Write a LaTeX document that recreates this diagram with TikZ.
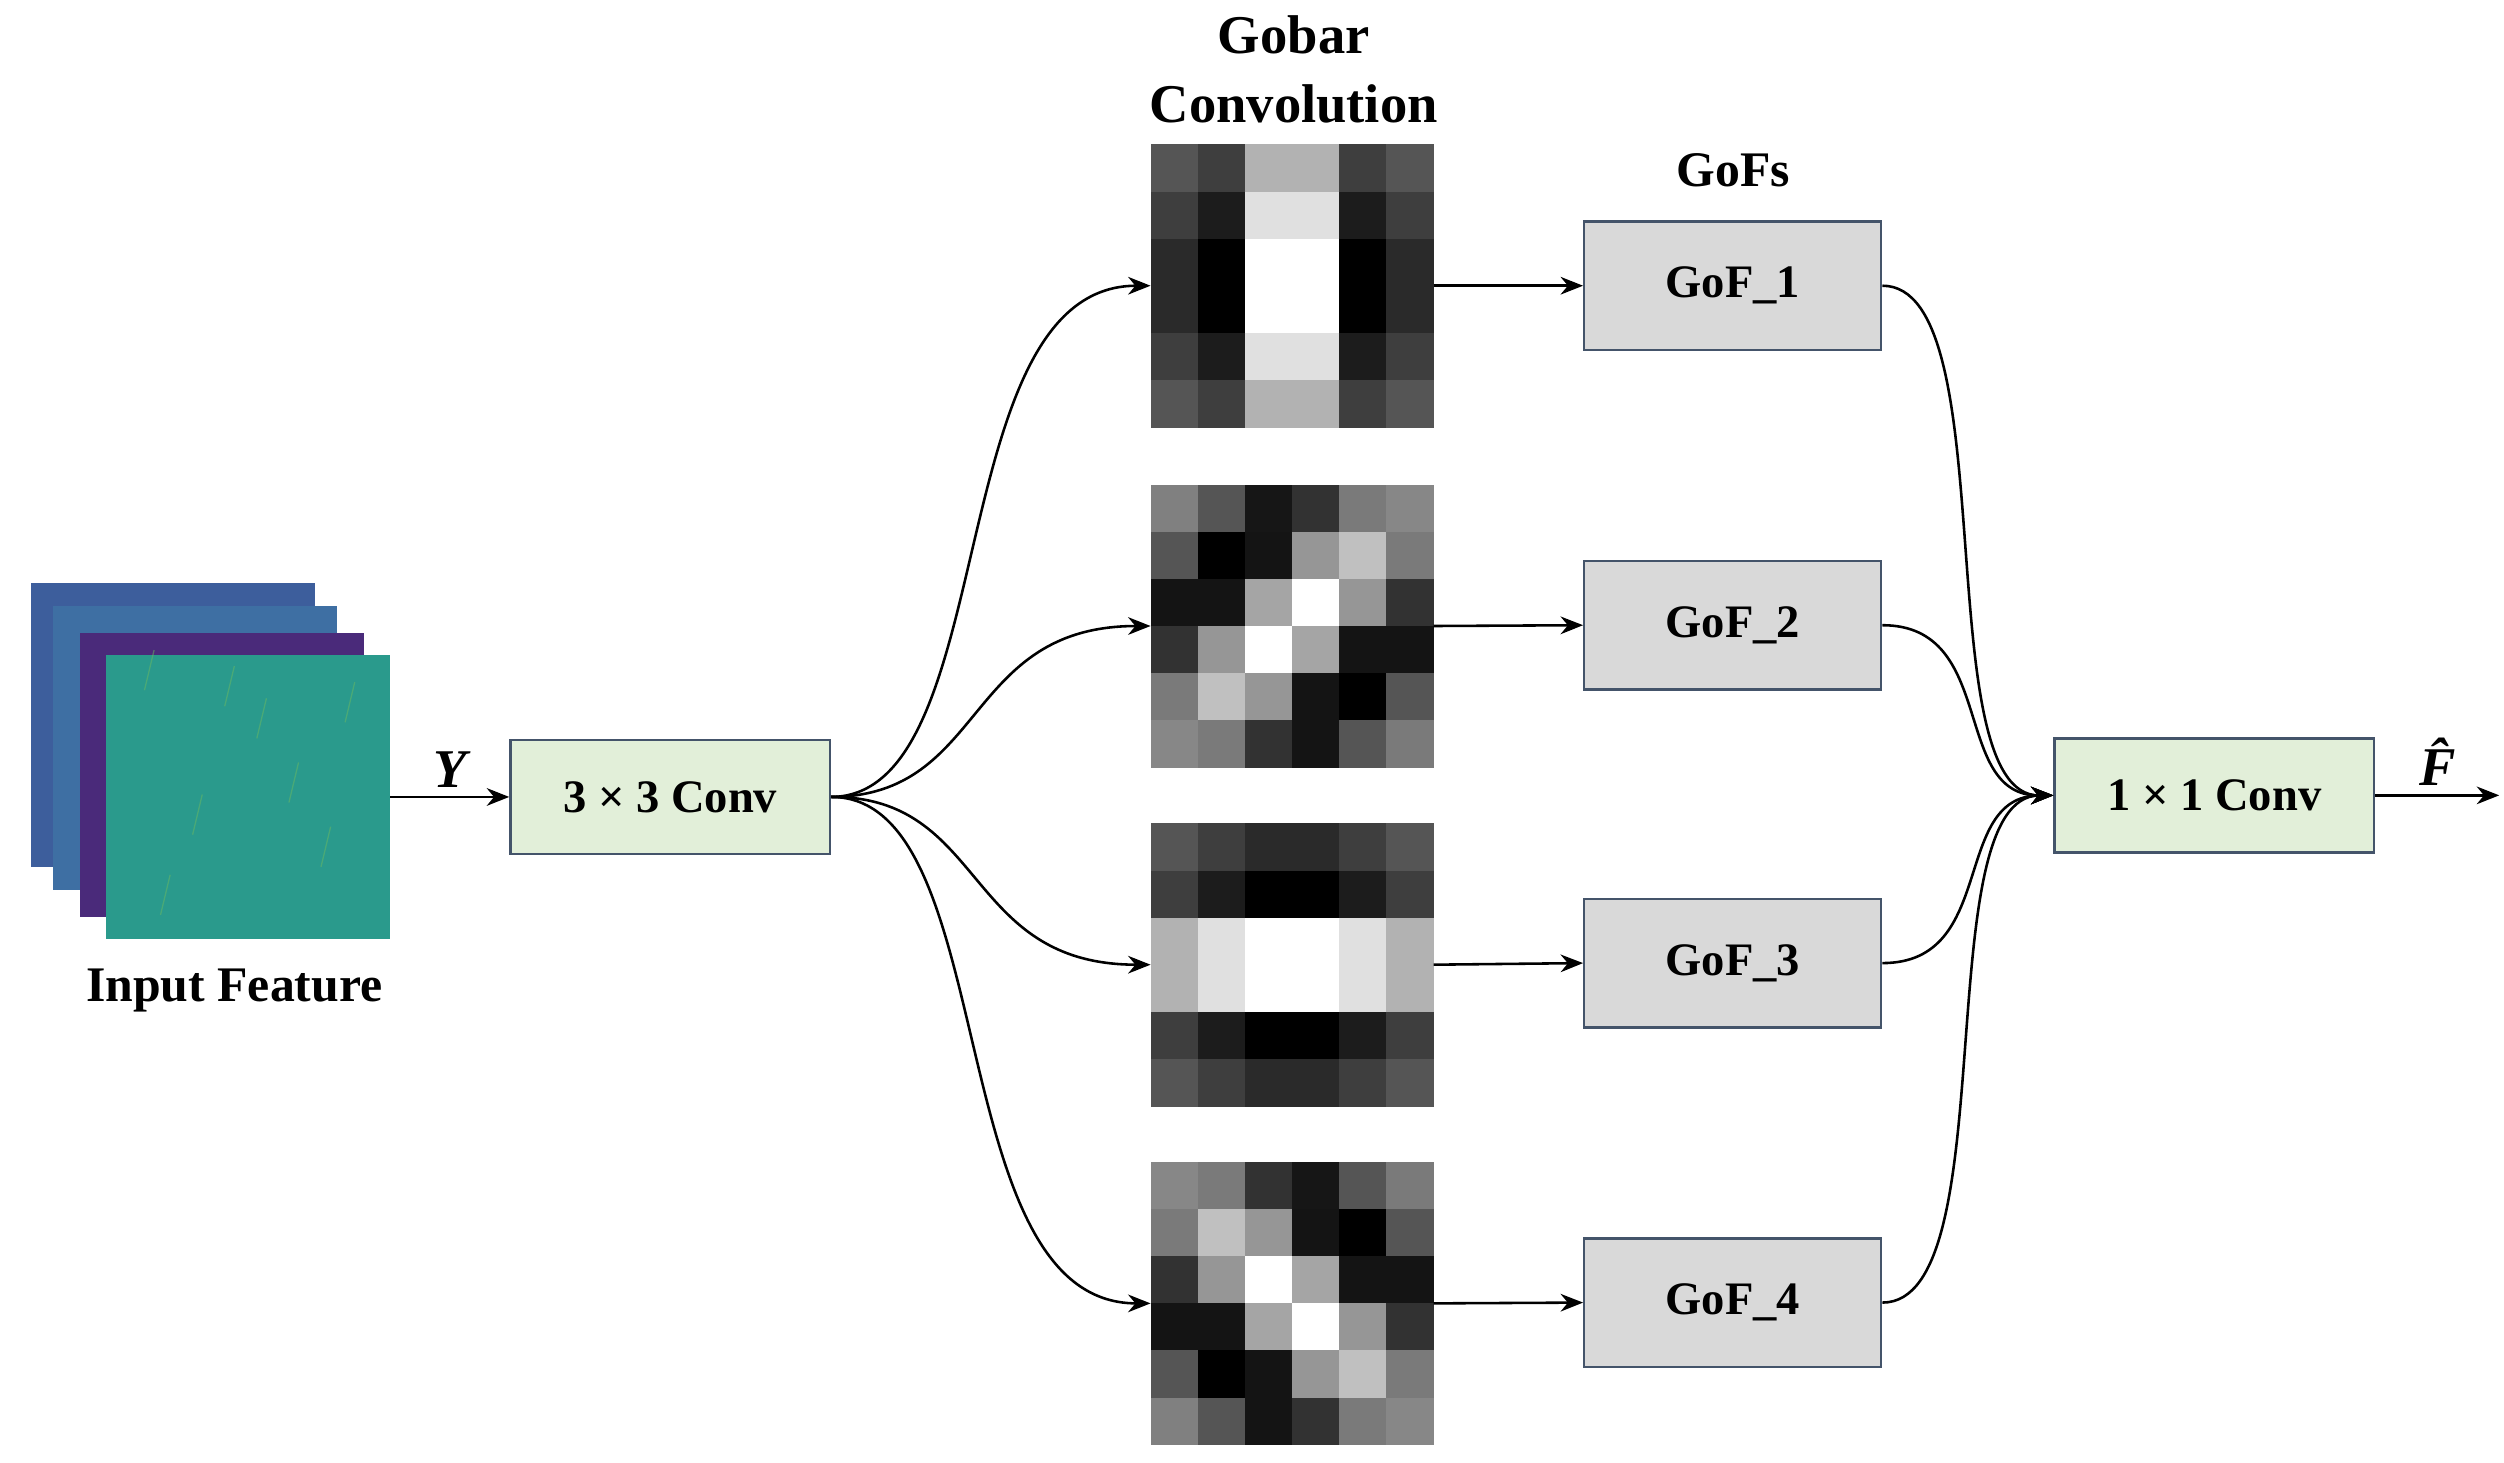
\documentclass[tikz,border=0pt]{standalone}
\usepackage{fontspec}
\setmainfont{Liberation Serif}
\usetikzlibrary{arrows.meta}
\definecolor{convfill}{HTML}{E2EFD9}
\definecolor{gofill}{HTML}{D9D9D9}
\definecolor{boxline}{HTML}{44546A}
\definecolor{lay1}{HTML}{3D5E9C}
\definecolor{lay2}{HTML}{3E6FA3}
\definecolor{lay3}{HTML}{4A2A7A}
\definecolor{lay4}{HTML}{2A9A8C}
\tikzset{
 conv/.style={draw=boxline,line width=1.5pt,fill=convfill,minimum width=199pt,minimum height=71pt,inner sep=0pt,font=\fontsize{29}{32}\selectfont\bfseries},
 gof/.style={draw=boxline,line width=1.5pt,fill=gofill,minimum width=185pt,minimum height=80pt,inner sep=0pt,font=\fontsize{29}{32}\selectfont\bfseries},
 kern/.style={minimum width=176pt,minimum height=176pt,inner sep=0pt},
 lbl/.style={font=\fontsize{34}{38}\selectfont\bfseries},
 arr/.style={line width=1.6pt,-{Stealth[length=14pt,width=11pt]}},
 layer/.style={minimum width=177pt,minimum height=177pt,inner sep=0pt}
}
\newcommand{\kernelcells}[3]{%
 \foreach \v [count=\i from 0] in {#3} {
  \pgfmathsetmacro\cc{mod(\i,6)}
  \pgfmathsetmacro\rr{int(\i/6)}
  \pgfmathsetmacro\pp{100-\v/2.55}
  \fill[black!\pp] ({#1+\cc*176/6},{#2+\rr*176/6}) rectangle ++(176/6+0.4,176/6+0.4);
 }}
\begin{document}
\begin{tikzpicture}[x=1pt,y=-1pt]
\useasboundingbox[fill=white] (0,0) rectangle (1560,911);
% input feature stack
\node[layer,fill=lay1] (l1) at (108,451.5) {};
\node[layer,fill=lay2] (l2) at (121.5,466) {};
\node[layer,fill=lay3] (l3) at (138.5,483) {};
\node[layer,fill=lay4] (in) at (154.5,496.5) {};
\foreach \a/\b in {90/430,120/520,160/460,200/540,215/450,180/500,100/570,140/440}
  \draw[lay4!70!yellow,line width=0.8pt,opacity=0.5] (\a,\b) -- ++(6,-25);
\node[lbl,font=\fontsize{31}{34}\selectfont\bfseries] (inlbl) at (146,617) {Input Feature};
% kernels
\node[kern] (k1) at (805,178) {};
\node[kern] (k2) at (805,390) {};
\node[kern] (k3) at (805,601) {};
\node[kern] (k4) at (805,812) {};
\kernelcells{717}{90}{85,62,178,178,62,85, 62,28,224,224,28,62, 42,0,255,255,0,42, 42,0,255,255,0,42, 62,28,224,224,28,62, 85,62,178,178,62,85}
\kernelcells{717}{302}{128,85,22,50,122,135, 85,0,20,150,192,122, 20,20,165,255,150,50, 50,150,255,165,20,20, 122,192,150,20,0,85, 135,122,50,20,85,122}
\kernelcells{717}{513}{85,62,42,42,62,85, 62,28,0,0,28,62, 178,224,255,255,224,178, 178,224,255,255,224,178, 62,28,0,0,28,62, 85,62,42,42,62,85}
\kernelcells{717}{724}{135,122,50,22,85,122, 122,192,150,20,0,85, 50,150,255,165,20,20, 20,20,165,255,150,50, 85,0,20,150,192,122, 128,85,20,50,122,135}
\node[lbl] (t1) at (806,22) {Gobar};
\node[lbl] (t2) at (806,65) {Convolution};
\node[lbl,font=\fontsize{31}{34}\selectfont\bfseries] (t3) at (1080,106) {GoFs};
% boxes
\node[conv] (c3) at (417.5,496.5) {3 × 3 Conv};
\node[conv] (c1) at (1379.5,495.5) {1 × 1 Conv};
\node[gof] (g1) at (1079.5,178) {GoF\_1};
\node[gof] (g2) at (1079.5,389.5) {GoF\_2};
\node[gof] (g3) at (1079.5,600) {GoF\_3};
\node[gof] (g4) at (1079.5,811.5) {GoF\_4};
% arrows
\draw[arr] (in.east) -- (c3.west) node[midway,above=2pt,font=\fontsize{34}{36}\selectfont\bfseries\itshape] {Y};
\draw[arr] (c3.east) .. controls (625,496) and (585,178) .. (k1.west);
\draw[arr] (c3.east) .. controls (615,496) and (600,390) .. (k2.west);
\draw[arr] (c3.east) .. controls (615,496) and (600,601) .. (k3.west);
\draw[arr] (c3.east) .. controls (625,496) and (585,812) .. (k4.west);
\foreach \i in {1,2,3,4} \draw[arr] (k\i.east) -- (g\i.west);
\draw[arr] (g1.east) .. controls (1250,178) and (1200,496) .. (c1.west);
\draw[arr] (g2.east) .. controls (1245,389.5) and (1215,496) .. (c1.west);
\draw[arr] (g3.east) .. controls (1245,600) and (1215,496) .. (c1.west);
\draw[arr] (g4.east) .. controls (1250,811.5) and (1200,496) .. (c1.west);
\coordinate (out) at (1557,495.5);
\draw[arr] (c1.east) -- (out) node[midway,above=2pt,font=\fontsize{34}{36}\selectfont\bfseries\itshape] {\^{F}};
\end{tikzpicture}
\end{document}
